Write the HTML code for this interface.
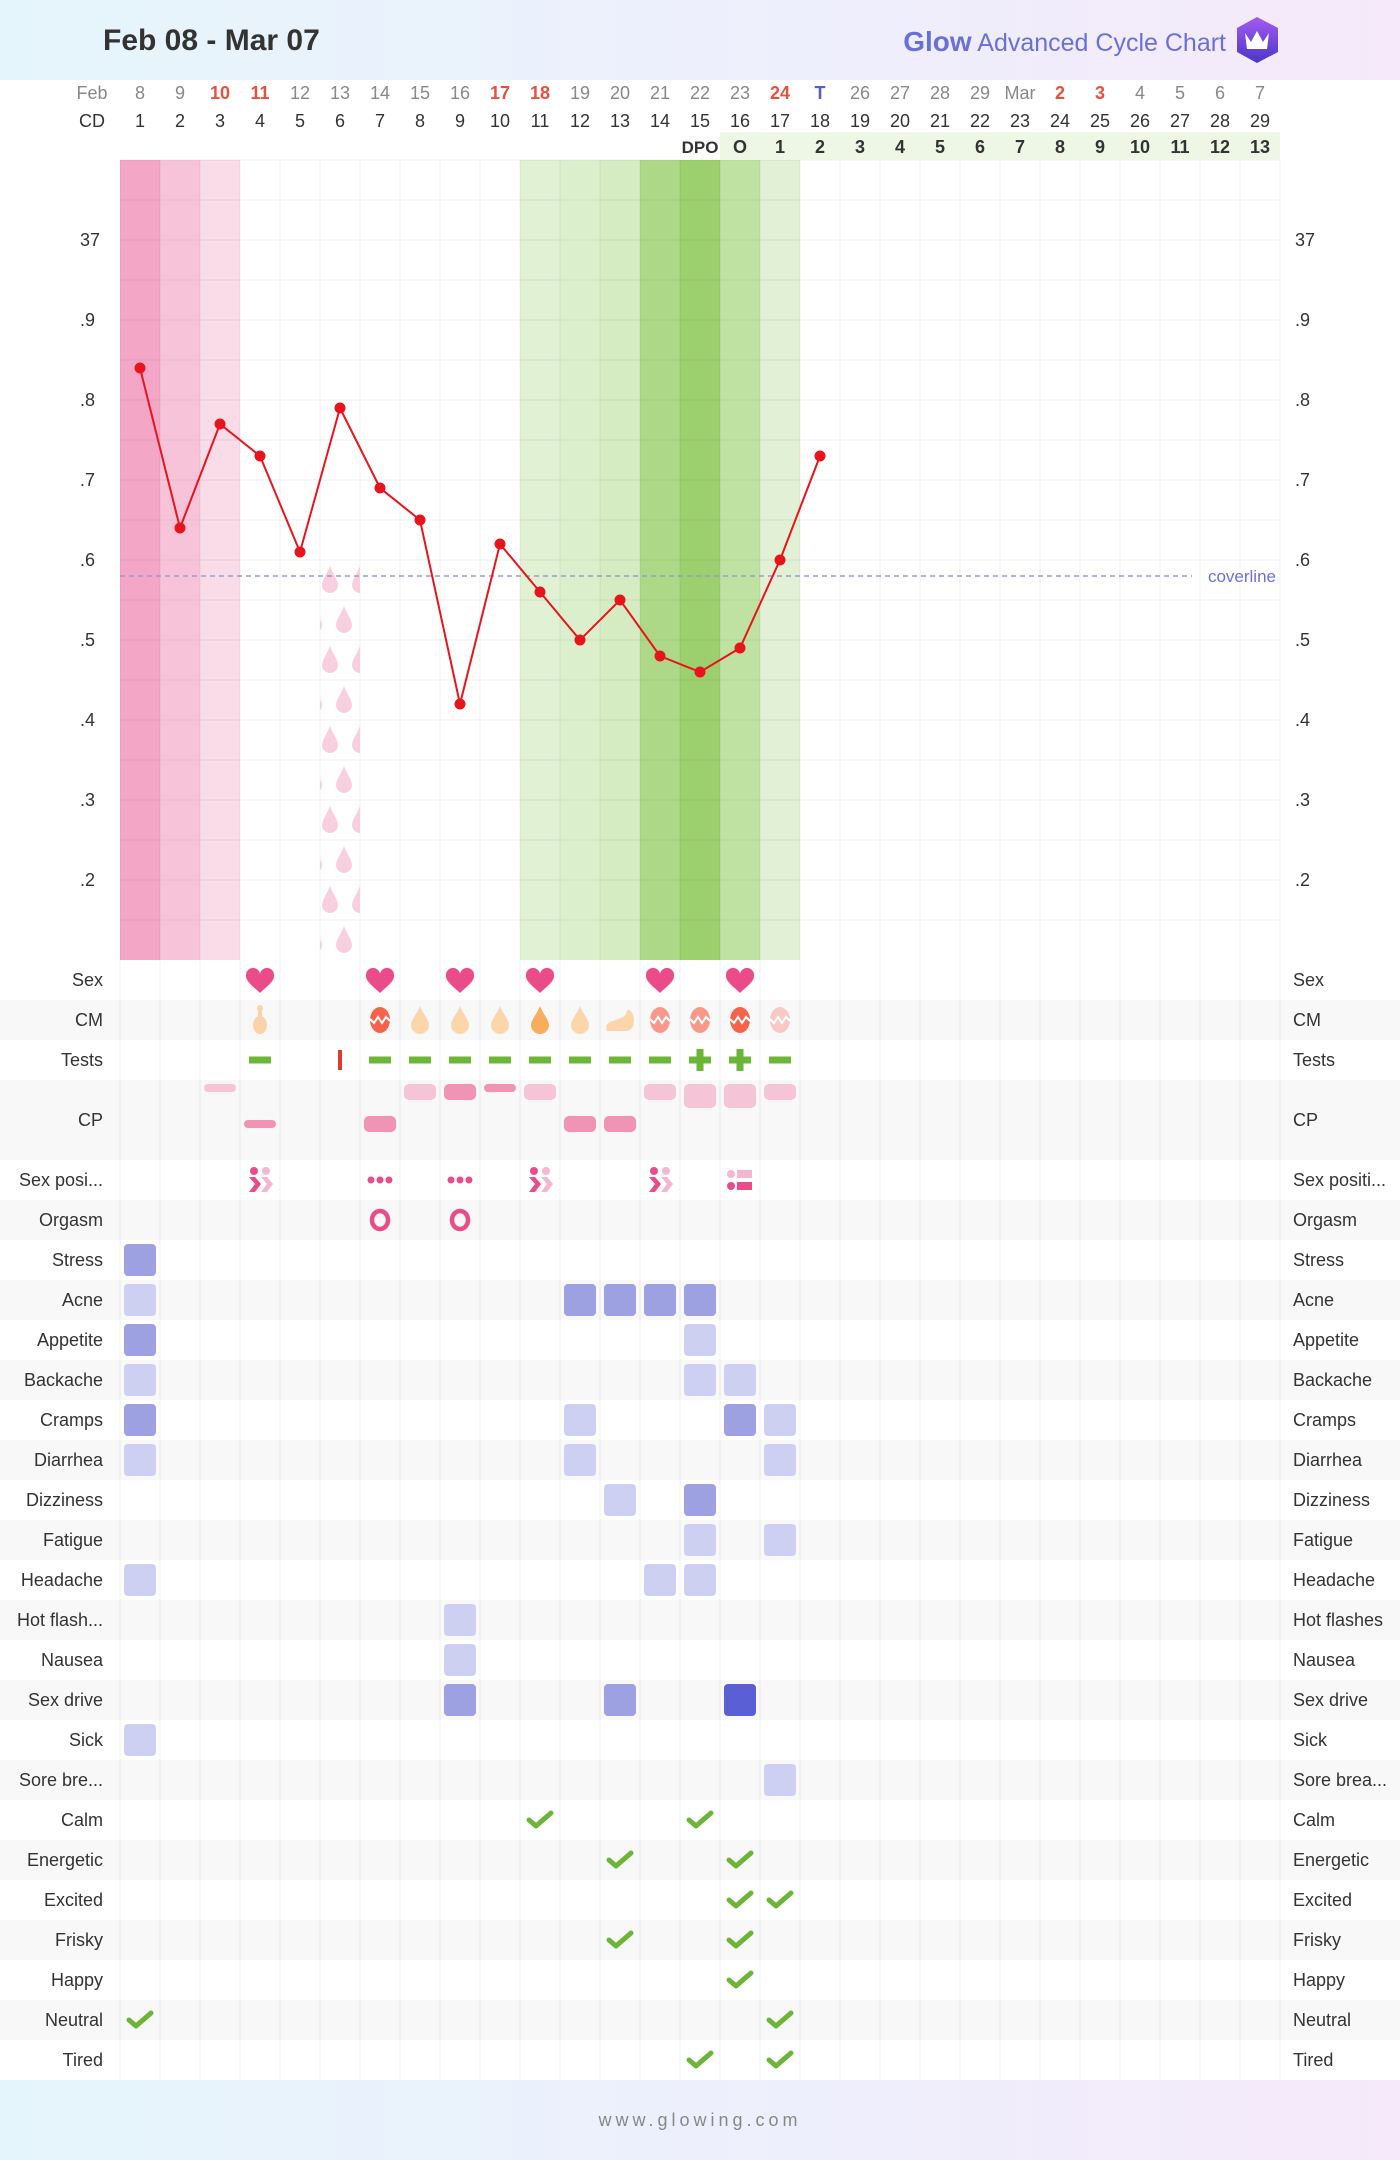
<!DOCTYPE html>
<html><head><meta charset="utf-8">
<style>
html,body{margin:0;padding:0;background:#fff;}
svg{display:block;font-family:"Liberation Sans",sans-serif;}
</style></head>
<body>
<svg id="s" width="1400" height="2160" viewBox="0 0 1400 2160" xmlns="http://www.w3.org/2000/svg">
<defs>
<linearGradient id="hg" x1="0" x2="1" y1="0" y2="0"><stop offset="0" stop-color="#e5f5fc"/><stop offset="0.5" stop-color="#edf0fc"/><stop offset="1" stop-color="#f5e9fa"/></linearGradient>
<linearGradient id="ig" x1="0" x2="0" y1="0" y2="1"><stop offset="0" stop-color="#a35cf0"/><stop offset="1" stop-color="#4b35c9"/></linearGradient>
<clipPath id="c6"><rect x="320" y="560" width="40" height="400"/></clipPath>
</defs>
<rect x="0" y="0" width="1400" height="80" fill="url(#hg)"/>
<rect x="0" y="2080" width="1400" height="80" fill="url(#hg)"/>
<text x="103" y="50" font-size="30" font-weight="bold" fill="#333">Feb 08 - Mar 07</text>
<text x="1226" y="51" font-size="25" fill="#6b70d8" text-anchor="end"><tspan font-weight="bold" font-size="28">Glow</tspan> Advanced Cycle Chart</text>
<path d="M1257,17 L1278,28 L1278,52 L1257,63 L1237,52 L1237,28 Z" fill="url(#ig)"/>
<path d="M1245,33 L1251,42 L1257,31 L1263,42 L1269,33 L1267,49 L1247,49 Z" fill="#fff"/>
<text x="700" y="2126" font-size="18" fill="#888" text-anchor="middle" letter-spacing="4">www.glowing.com</text>
<g id="g"></g>
</svg>
<script>
var g=document.getElementById('g'),h='';
function C(i){return 120+(i-0.5)*40;}
// row backgrounds
var rows=["Sex","CM","Tests","CP","Sex posi...","Orgasm","Stress","Acne","Appetite","Backache","Cramps","Diarrhea","Dizziness","Fatigue","Headache","Hot flash...","Nausea","Sex drive","Sick","Sore bre...","Calm","Energetic","Excited","Frisky","Happy","Neutral","Tired"];
var rrows=["Sex","CM","Tests","CP","Sex positi...","Orgasm","Stress","Acne","Appetite","Backache","Cramps","Diarrhea","Dizziness","Fatigue","Headache","Hot flashes","Nausea","Sex drive","Sick","Sore brea...","Calm","Energetic","Excited","Frisky","Happy","Neutral","Tired"];
var ry={},y=960;
rows.forEach(function(r,k){var hh=(r=="CP")?80:40;ry[k]=[y,hh];if(k%2==1)h+='<rect x="0" y="'+y+'" width="1400" height="'+hh+'" fill="#f8f8f8"/>';
h+='<text x="103" y="'+(y+hh/2+6)+'" font-size="18" fill="#333" text-anchor="end">'+r+'</text>';
h+='<text x="1293" y="'+(y+hh/2+6)+'" font-size="18" fill="#333">'+rrows[k]+'</text>';y+=hh;});
// column bands
var band={1:"#f4a6c6",2:"#f7c3d9",3:"#fadbe8",11:"#e1f1d4",12:"#dcefcc",13:"#d5ebc2",14:"#acd887",15:"#9ccf6d",16:"#bfe2a2",17:"#e2f1d5"};
for(var i in band)h+='<rect x="'+(120+(i-1)*40)+'" y="160" width="40" height="800" fill="'+band[i]+'"/>';
// grid
for(var j=0;j<20;j++){var yy=160+j*40;h+='<line x1="120" x2="1280" y1="'+yy+'" y2="'+yy+'" stroke="#000" stroke-opacity="0.06"/>';}
for(var i=0;i<=29;i++){var xx=120+i*40;h+='<line x1="'+xx+'" x2="'+xx+'" y1="160" y2="2080" stroke="#000" stroke-opacity="0.06"/>';}
// DPO band
h+='<rect x="720" y="132" width="560" height="28" fill="#eef7e6"/>';
// header rows
var d=["8","9","10","11","12","13","14","15","16","17","18","19","20","21","22","23","24","T","26","27","28","29","Mar","2","3","4","5","6","7"];
var red={"10":1,"11":1,"17":1,"18":1,"24":1};
h+='<text x="92" y="99" font-size="18" fill="#888" text-anchor="middle">Feb</text>';
h+='<text x="92" y="127" font-size="18" fill="#333" text-anchor="middle">CD</text>';
d.forEach(function(t,k){var c="#888";if(red[t]&&k<20)c="#e8503e";if(k==23||k==24)c="#e8503e";if(t=="T")c="#5a5fc8";
h+='<text x="'+C(k+1)+'" y="99" font-size="18" fill="'+c+'" text-anchor="middle"'+((c!="#888")?' font-weight="bold"':'')+'>'+t+'</text>';
h+='<text x="'+C(k+1)+'" y="127" font-size="18" fill="#333" text-anchor="middle">'+(k+1)+'</text>';});
h+='<text x="'+C(15)+'" y="153" font-size="17" fill="#333" text-anchor="middle" font-weight="bold">DPO</text>';
var dp=["O"];for(var k=1;k<=13;k++)dp.push(k);
dp.forEach(function(t,k){h+='<text x="'+C(16+k)+'" y="153" font-size="18" fill="#333" text-anchor="middle" font-weight="bold">'+t+'</text>';});
// temp labels
var tl=["37",".9",".8",".7",".6",".5",".4",".3",".2"];
tl.forEach(function(t,k){var yy=240+k*80+6;h+='<text x="80" y="'+yy+'" font-size="18" fill="#333">'+t+'</text><text x="1295" y="'+yy+'" font-size="18" fill="#333">'+t+'</text>';});
// drops
var dr='';for(var r=0;r<10;r++){var yy=580+r*40;var xs=(r%2==0)?[330,360]:[344,314];xs.forEach(function(x){dr+='<path d="M'+x+','+(yy-14)+' C'+(x+3)+','+(yy-6)+' '+(x+8)+','+(yy)+' '+(x+8)+','+(yy+5)+' A8,8 0 0 1 '+(x-8)+','+(yy+5)+' C'+(x-8)+','+yy+' '+(x-3)+','+(yy-6)+' '+x+','+(yy-14)+' Z" fill="#f7cfdf"/>';});}
h+='<g clip-path="url(#c6)">'+dr+'</g>';
// coverline
h+='<line x1="120" x2="1192" y1="576" y2="576" stroke="#9a9cc8" stroke-width="1.5" stroke-dasharray="5,4"/>';
h+='<text x="1276" y="582" font-size="17" fill="#6b70d8" text-anchor="end">coverline</text>';
// temps
var T=[36.84,36.64,36.77,36.73,36.61,36.79,36.69,36.65,36.42,36.62,36.56,36.50,36.55,36.48,36.46,36.49,36.60,36.73];
var pts=T.map(function(t,k){return C(k+1)+','+(240+(37-t)*800).toFixed(1);});
h+='<polyline points="'+pts.join(' ')+'" fill="none" stroke="#e8141c" stroke-width="2"/>';
pts.forEach(function(p){var a=p.split(',');h+='<circle cx="'+a[0]+'" cy="'+a[1]+'" r="5.5" fill="#e8141c"/>';});
// hearts
[4,7,9,11,14,16].forEach(function(i){var x=C(i),yy=981;h+='<path d="M'+x+','+(yy+12)+' C'+(x-6)+','+(yy+6)+' '+(x-14)+','+(yy+1)+' '+(x-14)+','+(yy-5)+' A7,7 0 0 1 '+x+','+(yy-7)+' A7,7 0 0 1 '+(x+14)+','+(yy-5)+' C'+(x+14)+','+(yy+1)+' '+(x+6)+','+(yy+6)+' '+x+','+(yy+12)+' Z" fill="#e94b8b"/>';});
// CM
function drop(x,yy,c){return '<path d="M'+x+','+(yy-14)+' C'+(x+3)+','+(yy-6)+' '+(x+9)+','+yy+' '+(x+9)+','+(yy+5)+' A9,9 0 0 1 '+(x-9)+','+(yy+5)+' C'+(x-9)+','+yy+' '+(x-3)+','+(yy-6)+' '+x+','+(yy-14)+' Z" fill="'+c+'"/>';}
function egg(x,yy,c){return '<ellipse cx="'+x+'" cy="'+yy+'" rx="10" ry="13" fill="'+c+'"/><polyline points="'+(x-10)+','+(yy-1)+' '+(x-6)+','+(yy+3)+' '+(x-2)+','+(yy-3)+' '+(x+2)+','+(yy+3)+' '+(x+6)+','+(yy-3)+' '+(x+10)+','+(yy+1)+'" fill="none" stroke="#fff" stroke-width="2"/>';}
var cy=1020;
h+='<circle cx="'+C(4)+'" cy="'+(cy-12)+'" r="3" fill="#fbd3a8"/><rect x="'+(C(4)-2)+'" y="'+(cy-11)+'" width="4" height="10" fill="#fbd3a8"/><ellipse cx="'+C(4)+'" cy="'+(cy+5)+'" rx="7" ry="9" fill="#fbd3a8"/>';
h+=egg(C(7),cy,"#f4634a");
[8,9,10,12].forEach(function(i){h+=drop(C(i),cy,"#fcd5ab");});
h+=drop(C(11),cy,"#f9ad5c");
h+='<path d="M'+(C(13)-13)+','+(cy+11)+' C'+(C(13)-16)+','+(cy)+' '+(C(13)-6)+','+(cy+2)+' '+(C(13)+3)+','+(cy-3)+' C'+(C(13)+8)+','+(cy-6)+' '+(C(13)+6)+','+(cy-11)+' '+(C(13)+9)+','+(cy-10)+' C'+(C(13)+16)+','+(cy-7)+' '+(C(13)+16)+','+(cy+11)+' '+(C(13)+6)+','+(cy+11)+' Z" fill="#fcd5ab"/>';
h+=egg(C(14),cy,"#f7988a")+egg(C(15),cy,"#f7988a")+egg(C(16),cy,"#f4634a")+egg(C(17),cy,"#f8c9c4");
// tests
var ty=1060;
[4,7,8,9,10,11,12,13,14,17].forEach(function(i){h+='<rect x="'+(C(i)-11)+'" y="'+(ty-3.5)+'" width="22" height="7" fill="#6cb536"/>';});
[15,16].forEach(function(i){h+='<rect x="'+(C(i)-11)+'" y="'+(ty-3.5)+'" width="22" height="7" fill="#6cb536"/><rect x="'+(C(i)-3.5)+'" y="'+(ty-11)+'" width="7" height="22" fill="#6cb536"/>';});
h+='<rect x="'+(C(6)-2)+'" y="'+(ty-10)+'" width="4" height="20" fill="#e03a2f"/>';
// CP
function cp(i,yy,hh,c){return '<rect x="'+(C(i)-16)+'" y="'+yy+'" width="32" height="'+hh+'" rx="'+Math.min(5,hh/2)+'" fill="'+c+'"/>';}
var L="#f5c5d7",M="#f093b4";
h+=cp(3,1084,8,L)+cp(8,1084,16,L)+cp(9,1084,16,M)+cp(10,1084,8,M)+cp(11,1084,16,L)+cp(14,1084,16,L)+cp(15,1084,24,L)+cp(16,1084,24,L)+cp(17,1084,16,L);
h+=cp(4,1120,8,M)+cp(7,1116,16,M)+cp(12,1116,16,M)+cp(13,1116,16,M);
// sex positions
var sy=1180;
[4,11,14].forEach(function(i){var x=C(i);h+='<circle cx="'+(x-6)+'" cy="'+(sy-9)+'" r="4" fill="#e94b8b"/><circle cx="'+(x+6)+'" cy="'+(sy-9)+'" r="4" fill="#f5b6cf"/><path d="M'+(x+1)+','+(sy-3)+' l6,7 l-6,8 h6 l6,-8 l-6,-7 Z" fill="#f5b6cf"/><path d="M'+(x-11)+','+(sy-3)+' l6,7 l-6,8 h6 l6,-8 l-6,-7 Z" fill="#e94b8b"/>';});
[7,9].forEach(function(i){var x=C(i);[-9,0,9].forEach(function(o){h+='<circle cx="'+(x+o)+'" cy="'+sy+'" r="3.5" fill="#e94b8b"/>';});});
(function(){var x=C(16);h+='<circle cx="'+(x-9)+'" cy="'+(sy-6)+'" r="4" fill="#f5b6cf"/><rect x="'+(x-3)+'" y="'+(sy-10)+'" width="15" height="8" fill="#f5b6cf"/><circle cx="'+(x-9)+'" cy="'+(sy+6)+'" r="4" fill="#e94b8b"/><rect x="'+(x-3)+'" y="'+(sy+2)+'" width="15" height="8" fill="#e94b8b"/>';})();
// orgasm
[7,9].forEach(function(i){h+='<ellipse cx="'+C(i)+'" cy="1220" rx="8" ry="9" fill="none" stroke="#e94b8b" stroke-width="4.5"/>';});
// symptoms
var Ml="#cdd0f0",Mm="#9da1e1",Md="#5a5fd6";
var sym={6:[[1,Mm]],7:[[1,Ml],[12,Mm],[13,Mm],[14,Mm],[15,Mm]],8:[[1,Mm],[15,Ml]],9:[[1,Ml],[15,Ml],[16,Ml]],10:[[1,Mm],[12,Ml],[16,Mm],[17,Ml]],11:[[1,Ml],[12,Ml],[17,Ml]],12:[[13,Ml],[15,Mm]],13:[[15,Ml],[17,Ml]],14:[[1,Ml],[14,Ml],[15,Ml]],15:[[9,Ml]],16:[[9,Ml]],17:[[9,Mm],[13,Mm],[16,Md]],18:[[1,Ml]],19:[[17,Ml]]};
for(var k in sym){var yy=ry[k][0]+20;sym[k].forEach(function(p){h+='<rect x="'+(C(p[0])-16)+'" y="'+(yy-16)+'" width="32" height="32" rx="4" fill="'+p[1]+'"/>';});}
var chk={20:[11,15],21:[13,16],22:[16,17],23:[13,16],24:[16],25:[1,17],26:[15,17]};
for(var k in chk){var yy=ry[k][0]+20;chk[k].forEach(function(i){var x=C(i);h+='<polyline points="'+(x-11)+','+(yy)+' '+(x-4)+','+(yy+6)+' '+(x+11)+','+(yy-7)+'" fill="none" stroke="#6cb536" stroke-width="5" stroke-linecap="round" stroke-linejoin="round"/>';});}
g.innerHTML=h;
</script>
</body></html>
